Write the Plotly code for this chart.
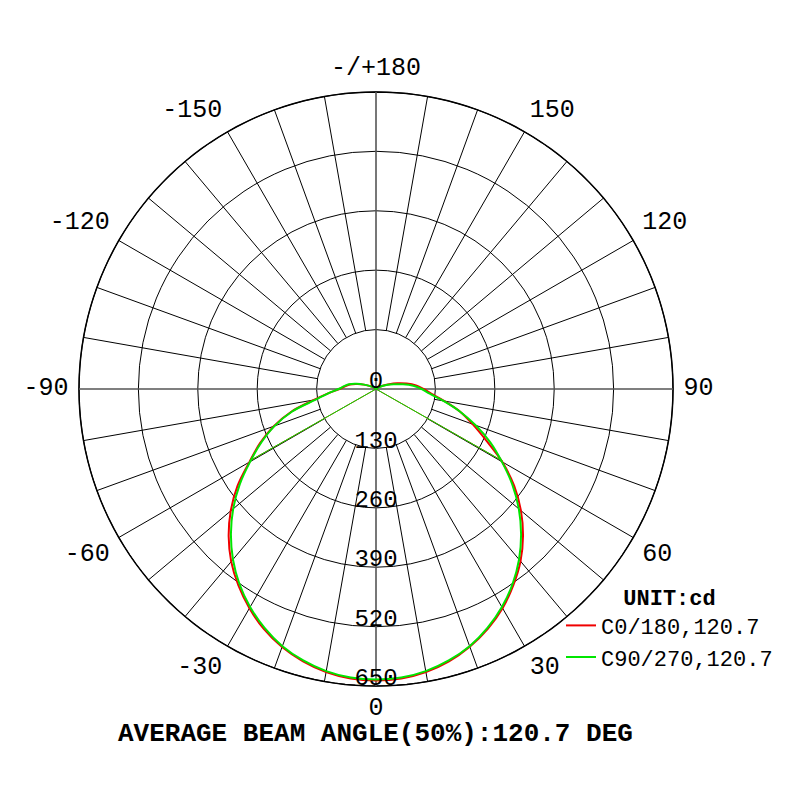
import plotly.graph_objects as go

# photometric data, candela, every 5 degrees from nadir
angles = list(range(0, 185, 5))

c0_pos = [638, 636, 629, 617, 600, 579, 554, 524, 492, 455, 414, 369, 319,
          266, 225, 190, 152, 122, 104, 88, 68, 48, 31, 18, 11, 7, 5, 4, 3,
          2, 2, 1, 1, 1, 0, 0, 0]
c0_neg = [638, 636, 629, 617, 601, 580, 554, 525, 493, 456, 415, 370, 320,
          280, 238, 192, 138, 104, 80, 68, 58, 42, 28, 16, 9, 6, 4, 3, 2,
          2, 1, 1, 1, 0, 0, 0, 0]
c90_pos = [636, 634, 627, 615, 599, 577, 551, 521, 487, 449, 408, 364, 318,
           276, 232, 190, 150, 118, 100, 82, 60, 40, 27, 17, 10, 6, 4, 3, 2,
           2, 1, 1, 1, 0, 0, 0, 0]
c90_neg = [636, 634, 627, 615, 599, 577, 551, 521, 487, 449, 408, 364, 318,
           277, 236, 190, 134, 104, 82, 70, 60, 44, 28, 16, 9, 5, 3, 2, 2,
           1, 1, 1, 0, 0, 0, 0, 0]

beam_angle = 120.7
radial_ticks = [0, 130, 260, 390, 520, 650]
angle_ticks = [0, 30, 60, 90, 120, 150, 180, 210, 240, 270, 300, 330]
angle_labels = ["0", "30", "60", "90", "120", "150", "-/+180",
                "-150", "-120", "-90", "-60", "-30"]

RED = "#f00000"
GREEN = "#00e600"
MONO = "Liberation Mono"
RMAX = radial_ticks[-1]
RVIEW = RMAX * 720 / 650   # room outside the chart for the angle labels
LBL_SHIFT = 15             # radial labels sit just above each ring


def full_curve(neg, pos):
    theta = [-a for a in reversed(angles)] + angles[1:]
    r = list(reversed(neg)) + pos[1:]
    return theta, r


def label_pos(a):
    # text sits outward from its anchor point, corner-wise on the diagonals
    if a == 0:
        return "bottom center"
    if a == 180:
        return "top center"
    side = "right" if a < 180 else "left"
    if a % 180 == 90:
        return "middle " + side
    vert = "bottom" if (a < 90 or a > 270) else "top"
    return vert + " " + side


fig = go.Figure()

# spokes every 10 deg, starting at the first ring
spoke_t, spoke_r = [], []
for a in range(0, 360, 10):
    if a % 90 == 0:
        continue
    spoke_t += [a, a, None]
    spoke_r += [radial_ticks[1], RMAX, None]
fig.add_trace(go.Scatterpolar(theta=spoke_t, r=spoke_r, mode="lines",
                              line=dict(color="black", width=1),
                              showlegend=False, hoverinfo="skip"))

# outer circle
ring_t = list(range(0, 361, 2))
fig.add_trace(go.Scatterpolar(theta=ring_t, r=[RMAX] * len(ring_t),
                              mode="lines", line=dict(color="black", width=1.5),
                              showlegend=False, hoverinfo="skip"))

# main axes through the centre
fig.add_trace(go.Scatterpolar(theta=[0, 180, None, 90, 270],
                              r=[RMAX, RMAX, None, RMAX, RMAX], mode="lines",
                              line=dict(color="#555555", width=1.6),
                              showlegend=False, hoverinfo="skip"))

# C0/180 and C90/270 curves + 50% beam lines
half = beam_angle / 2
for name, neg, pos, col in [("C0/180,120.7", c0_neg, c0_pos, RED),
                            ("C90/270,120.7", c90_neg, c90_pos, GREEN)]:
    th, rr = full_curve(neg, pos)
    fig.add_trace(go.Scatterpolar(theta=th, r=rr, mode="lines",
                                  line=dict(color=col, width=2,
                                            shape="spline", smoothing=1),
                                  name=name, hoverinfo="skip"))
    hm = max(pos) / 2
    fig.add_trace(go.Scatterpolar(theta=[-half, 0, half], r=[hm, 0, hm],
                                  mode="lines", line=dict(color=col, width=1),
                                  showlegend=False, hoverinfo="skip"))

# radial value labels along the downward axis
lbl_r = [abs(v - LBL_SHIFT) for v in radial_ticks]
lbl_t = [0 if v >= LBL_SHIFT else 180 for v in radial_ticks]
fig.add_trace(go.Scatterpolar(theta=lbl_t, r=lbl_r,
                              mode="text", text=[str(v) for v in radial_ticks],
                              textposition="middle center",
                              textfont=dict(family=MONO, size=24,
                                            color="black"),
                              showlegend=False, hoverinfo="skip"))

# angle labels outside the outer circle
fig.add_trace(go.Scatterpolar(theta=angle_ticks,
                              r=[RMAX * 1.035] * len(angle_ticks),
                              mode="text", text=angle_labels,
                              textposition=[label_pos(a) for a in angle_ticks],
                              textfont=dict(family=MONO, size=25,
                                            color="black"),
                              showlegend=False, hoverinfo="skip"))

fig.update_layout(
    width=800, height=800,
    margin=dict(l=0, r=0, t=0, b=0),
    paper_bgcolor="white",
    polar=dict(
        domain=dict(x=[0.04875, 0.87125], y=[0.1125, 0.935]),
        bgcolor="white",
        angularaxis=dict(rotation=270, direction="counterclockwise",
                         showticklabels=False, showgrid=False, ticks="",
                         showline=False),
        radialaxis=dict(range=[0, RVIEW], tickvals=radial_ticks[1:],
                        showticklabels=False, ticks="", showline=False,
                        showgrid=True, gridcolor="black", gridwidth=1),
    ),
    legend=dict(x=0.69125, y=0.29, xanchor="left", yanchor="top",
                bgcolor="rgba(0,0,0,0)",
                font=dict(family=MONO, size=22, color="black"),
                title=dict(text="<b>UNIT:cd</b>", side="top center",
                           font=dict(family=MONO, size=22, color="black"))),
    annotations=[dict(text="<b>AVERAGE BEAM ANGLE(50%):120.7 DEG</b>",
                      xref="paper", yref="paper", x=0.459, y=0.0925,
                      xanchor="center", yanchor="middle", showarrow=False,
                      font=dict(family=MONO, size=26, color="black"))],
)

fig.write_html("out.html")
